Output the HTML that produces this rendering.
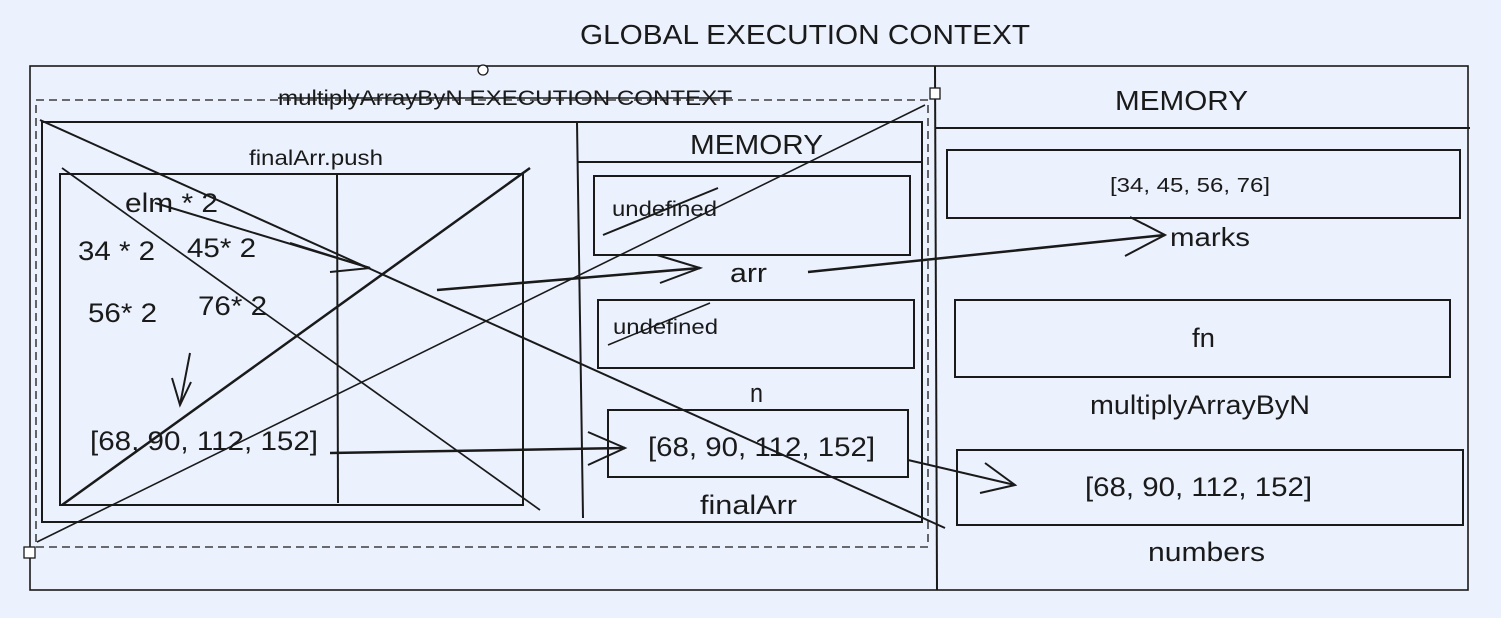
<!DOCTYPE html>
<html><head><meta charset="utf-8"><style>
html,body{margin:0;padding:0;background:#ebf1fd;}
svg{display:block;}
text{font-family:"Liberation Sans",sans-serif;fill:#1a1a1a;}
</style></head><body>
<svg width="1501" height="618" viewBox="0 0 1501 618" xmlns="http://www.w3.org/2000/svg">
<rect width="1501" height="618" fill="#ebf1fd"/>
<g stroke="#1a1a1a" fill="none" stroke-width="2">
<rect x="30" y="66" width="1438" height="524" stroke-width="1.6"/>
<line x1="935" y1="66" x2="937" y2="590"/>
<line x1="935" y1="128" x2="1470" y2="128"/>
<rect x="947" y="150" width="513" height="68"/>
<rect x="955" y="300" width="495" height="77"/>
<rect x="957" y="450" width="506" height="75"/>
<rect x="36" y="100" width="892" height="447" stroke-width="1.3" stroke-dasharray="8,5"/>
<rect x="42" y="122" width="880" height="400"/>
<line x1="577" y1="122" x2="583" y2="518"/>
<line x1="577" y1="162" x2="922" y2="162"/>
<rect x="594" y="176" width="316" height="79"/>
<rect x="598" y="300" width="316" height="68"/>
<rect x="608" y="410" width="300" height="67"/>
<rect x="60" y="174" width="463" height="331"/>
<line x1="337" y1="174" x2="338" y2="503"/>
<line x1="40" y1="120" x2="945" y2="528"/>
<line x1="62" y1="505" x2="530" y2="168" stroke-width="2.5"/>
<line x1="62" y1="168" x2="540" y2="510" stroke-width="1.7"/>
<line x1="37" y1="542" x2="925" y2="105" stroke-width="1.6"/>
<line x1="603" y1="235" x2="718" y2="188"/>
<line x1="608" y1="345" x2="710" y2="303" stroke-width="1.5"/>
<line x1="155" y1="203" x2="370" y2="268"/>
<polyline points="290,243 370,268 330,272"/>
<line x1="437" y1="290" x2="700" y2="268" stroke-width="2.5"/>
<polyline points="657,255 700,268 660,283"/>
<line x1="808" y1="272" x2="1165" y2="235" stroke-width="2.5"/>
<polyline points="1130,217 1165,235 1125,256"/>
<line x1="190" y1="353" x2="180" y2="405"/>
<polyline points="172,378 180,405 191,382"/>
<line x1="330" y1="453" x2="625" y2="448" stroke-width="2.5"/>
<polyline points="588,432 625,448 588,465"/>
<line x1="908" y1="460" x2="1015" y2="485" stroke-width="2"/>
<polyline points="985,463 1015,485 980,493"/>
</g>
<circle cx="483" cy="70" r="5" fill="#fff" stroke="#1a1a1a" stroke-width="1.3"/>
<rect x="930" y="88" width="10" height="11" fill="#fff" stroke="#1a1a1a" stroke-width="1.3"/>
<rect x="24" y="547" width="11" height="11" fill="#fff" stroke="#1a1a1a" stroke-width="1.3"/>
<g>
<text x="580" y="44" font-size="28" textLength="450" lengthAdjust="spacingAndGlyphs">GLOBAL EXECUTION CONTEXT</text>
<text x="1115" y="110" font-size="28" textLength="133" lengthAdjust="spacingAndGlyphs">MEMORY</text>
<text x="1110" y="192" font-size="20" textLength="160" lengthAdjust="spacingAndGlyphs">[34, 45, 56, 76]</text>
<text x="1170" y="246" font-size="26" textLength="80" lengthAdjust="spacingAndGlyphs">marks</text>
<text x="1192" y="347" font-size="27" textLength="23" lengthAdjust="spacingAndGlyphs">fn</text>
<text x="1090" y="414" font-size="27" textLength="220" lengthAdjust="spacingAndGlyphs">multiplyArrayByN</text>
<text x="1085" y="496" font-size="27" textLength="227" lengthAdjust="spacingAndGlyphs">[68, 90, 112, 152]</text>
<text x="1148" y="561" font-size="27" textLength="117" lengthAdjust="spacingAndGlyphs">numbers</text>
<text x="278" y="105" font-size="21" textLength="454" lengthAdjust="spacingAndGlyphs">multiplyArrayByN EXECUTION CONTEXT</text>
<line x1="278" y1="98" x2="732" y2="98" stroke="#1a1a1a" stroke-width="1.5"/>
<text x="690" y="154" font-size="28" textLength="133" lengthAdjust="spacingAndGlyphs">MEMORY</text>
<text x="612" y="216" font-size="21" textLength="105" lengthAdjust="spacingAndGlyphs">undefined</text>
<text x="730" y="282" font-size="27" textLength="37" lengthAdjust="spacingAndGlyphs">arr</text>
<text x="613" y="334" font-size="21" textLength="105" lengthAdjust="spacingAndGlyphs">undefined</text>
<text x="750" y="402" font-size="27" textLength="13" lengthAdjust="spacingAndGlyphs">n</text>
<text x="648" y="456" font-size="27" textLength="227" lengthAdjust="spacingAndGlyphs">[68, 90, 112, 152]</text>
<text x="700" y="514" font-size="27" textLength="97" lengthAdjust="spacingAndGlyphs">finalArr</text>
<text x="249" y="165" font-size="21" textLength="134" lengthAdjust="spacingAndGlyphs">finalArr.push</text>
<text x="125" y="212" font-size="27" textLength="93" lengthAdjust="spacingAndGlyphs">elm * 2</text>
<text x="78" y="260" font-size="27" textLength="77" lengthAdjust="spacingAndGlyphs">34 * 2</text>
<text x="187" y="257" font-size="27" textLength="69" lengthAdjust="spacingAndGlyphs">45* 2</text>
<text x="88" y="322" font-size="27" textLength="69" lengthAdjust="spacingAndGlyphs">56* 2</text>
<text x="198" y="315" font-size="27" textLength="69" lengthAdjust="spacingAndGlyphs">76* 2</text>
<text x="90" y="450" font-size="27" textLength="228" lengthAdjust="spacingAndGlyphs">[68, 90, 112, 152]</text>
</g>
</svg>
</body></html>
